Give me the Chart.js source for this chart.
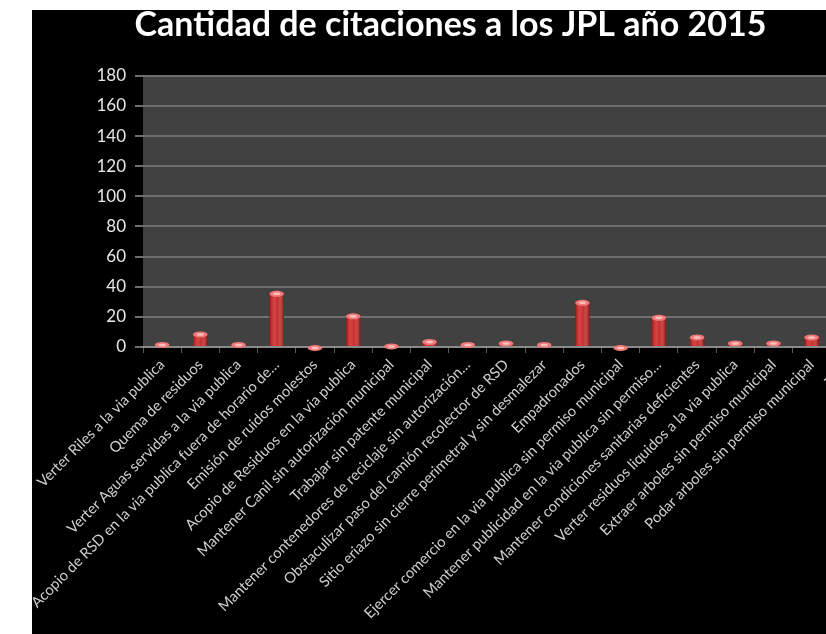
<!DOCTYPE html>
<html>
<head>
<meta charset="utf-8">
<script src="https://cdn.jsdelivr.net/npm/chart.js@4.4.1/dist/chart.umd.min.js"></script>
<style>
  html, body { margin: 0; padding: 0; background: #ffffff; overflow: hidden; width: 826px; height: 634px; }
  #frame { position: absolute; left: 32px; top: 10px; width: 900px; height: 700px; background: #000000; }
  #wrap { position: absolute; left: 32px; top: 5px; }
</style>
</head>
<body>
<div id="frame"></div>
<div id="wrap"><canvas id="citasChart" width="837" height="662"></canvas></div>
<script>
// datos del grafico
var categorias = [
  'Verter Riles a la via publica',
  'Quema de residuos',
  'Verter Aguas servidas a la via publica',
  'Acopio de RSD en la via publica fuera de horario de…',
  'Emisión de ruidos molestos',
  'Acopio de Residuos en la via publica',
  'Mantener Canil sin autorización municipal',
  'Trabajar sin patente municipal',
  'Mantener contenedores de reciclaje sin autorización…',
  'Obstaculizar paso del camión recolector de RSD',
  'Sitio eriazo sin cierre perimetral y sin desmalezar',
  'Empadronados',
  'Ejercer comercio en la via publica sin permiso municipal',
  'Mantener publicidad en la via publica sin permiso…',
  'Mantener condiciones sanitarias deficientes',
  'Verter residuos liquidos a la via publica',
  'Extraer arboles sin permiso municipal',
  'Podar arboles sin permiso municipal',
  'Total'
];
var citaciones = [2, 9, 2, 36, 0, 21, 1, 4, 2, 3, 2, 30, 0, 20, 7, 3, 3, 7, 152];
var yMin = 0;
var yMax = 180;
var yPaso = 20;

// fondo gris del area de trazado
var fondoPlot = {
  id: 'fondoPlot',
  beforeDraw: function (chart) {
    var a = chart.chartArea, c = chart.ctx;
    c.save();
    c.fillStyle = '#414141';
    c.fillRect(a.left, a.top, a.right - a.left, a.bottom - a.top);
    c.restore();
  }
};

// sombreado tipo 3D de las barras
var barras3d = {
  id: 'barras3d',
  afterDatasetsDraw: function (chart) {
    var c = chart.ctx;
    var meta = chart.getDatasetMeta(0);
    c.save();
    meta.data.forEach(function (bar) {
      var p = bar.getProps(['x', 'y', 'base', 'width'], true);
      var l = p.x - p.width / 2, w = p.width;
      var h = p.base - p.y;
      if (h > 1) {
        var g = c.createLinearGradient(l, 0, l + w, 0);
        g.addColorStop(0, 'rgba(90,0,0,0.55)');
        g.addColorStop(0.3, 'rgba(255,120,120,0.25)');
        g.addColorStop(0.55, 'rgba(255,255,255,0)');
        g.addColorStop(1, 'rgba(80,0,0,0.6)');
        c.fillStyle = g;
        c.fillRect(l, p.y, w, h);
      }
      // tapa superior
      c.fillStyle = '#f07a7a';
      c.beginPath();
      c.ellipse(p.x, p.y + 1, w / 2, 3, 0, 0, Math.PI * 2);
      c.fill();
      c.fillStyle = 'rgba(255,220,220,0.7)';
      c.beginPath();
      c.ellipse(p.x, p.y + 1, w / 4, 1.3, 0, 0, Math.PI * 2);
      c.fill();
    });
    c.restore();
  }
};

document.addEventListener('DOMContentLoaded', function () {
  var ctx = document.getElementById('citasChart').getContext('2d');
  var chart = new Chart(ctx, {
    type: 'bar',
    data: {
      labels: categorias,
      datasets: [{
        label: 'Citaciones',
        data: citaciones,
        backgroundColor: '#c82c2c',
        borderWidth: 0,
        barPercentage: 0.38,
        categoryPercentage: 1.0
      }]
    },
    options: {
      responsive: false,
      animation: false,
      layout: { padding: { top: 0, left: 0, right: 0, bottom: 0 } },
      plugins: {
        legend: { display: false },
        tooltip: { enabled: false },
        title: {
          display: true,
          text: 'Cantidad de citaciones a los JPL año 2015',
          color: '#ffffff',
          font: { family: 'Lato', size: 34, weight: 'bold' },
          padding: { top: 0, bottom: 30 }
        }
      },
      scales: {
        x: {
          grid: { display: true, drawOnChartArea: false, drawTicks: true, tickLength: 6, color: '#5a5a5a', lineWidth: 1 },
          border: { display: true, color: '#8a8a8a', width: 2 },
          ticks: {
            color: '#cfcfcf',
            font: { family: 'Lato', size: 14.8 },
            minRotation: 45,
            maxRotation: 45,
            autoSkip: false,
            padding: 3
          },
          afterFit: function (scale) {
            scale.height = 320;
            scale.paddingLeft = 0;
            scale.paddingRight = 0;
          }
        },
        y: {
          min: yMin,
          max: yMax,
          grid: { color: '#6e6e6e', lineWidth: 2, drawTicks: true, tickLength: 8 },
          border: { display: false },
          ticks: {
            stepSize: yPaso,
            color: '#e6e6e6',
            font: { family: 'Lato', size: 17 },
            padding: 9
          },
          afterFit: function (scale) { scale.width = 111; }
        }
      }
    },
    plugins: [fondoPlot, barras3d]
  });
});
</script>
</body>
</html>
